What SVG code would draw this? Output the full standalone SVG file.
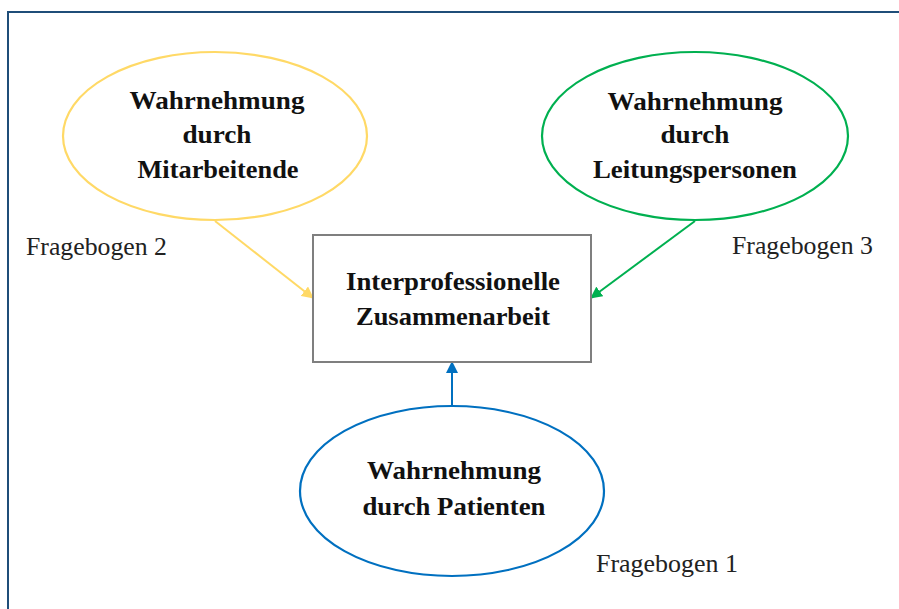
<svg xmlns="http://www.w3.org/2000/svg" width="899" height="609" viewBox="0 0 899 609">
<style>
.t{font-family:"Liberation Serif","DejaVu Serif",serif;font-weight:bold;font-size:26px;fill:#111;text-anchor:middle}
.q{font-family:"Liberation Serif","DejaVu Serif",serif;font-size:26px;fill:#222}
.e{fill:#fff;stroke-width:2.2}
</style>
<defs>
<marker id="ay" markerWidth="12" markerHeight="12" refX="11" refY="6" orient="auto" markerUnits="userSpaceOnUse" viewBox="0 0 12 12"><path d="M0,0 L12,6 L0,12 z" fill="#FFD966"/></marker>
<marker id="ag" markerWidth="12" markerHeight="12" refX="11" refY="6" orient="auto" markerUnits="userSpaceOnUse" viewBox="0 0 12 12"><path d="M0,0 L12,6 L0,12 z" fill="#00B050"/></marker>
<marker id="ab" markerWidth="12" markerHeight="12" refX="11" refY="6" orient="auto" markerUnits="userSpaceOnUse" viewBox="0 0 12 12"><path d="M0,0 L12,6 L0,12 z" fill="#0070C0"/></marker>
</defs>
<rect x="0" y="0" width="899" height="609" fill="#fff"/>
<rect x="8" y="12" width="900" height="610" fill="none" stroke="#1F4E79" stroke-width="2"/>
<g id="connectors">
<line x1="215" y1="221" x2="313" y2="298" stroke="#FFD966" stroke-width="2" marker-end="url(#ay)"/>
<line x1="695" y1="221" x2="591" y2="298" stroke="#00B050" stroke-width="2" marker-end="url(#ag)"/>
<line x1="452" y1="406" x2="452" y2="362" stroke="#0070C0" stroke-width="2" marker-end="url(#ab)"/>
</g>
<g id="mitarbeitende">
<ellipse class="e" cx="215" cy="136" rx="152" ry="84" stroke="#FFD966"/>
<text class="t" x="217" y="109" textLength="175" lengthAdjust="spacingAndGlyphs">Wahrnehmung</text>
<text class="t" x="217" y="143" textLength="69" lengthAdjust="spacingAndGlyphs">durch</text>
<text class="t" x="218" y="178" textLength="161" lengthAdjust="spacingAndGlyphs">Mitarbeitende</text>
</g>
<g id="leitung">
<ellipse class="e" cx="695" cy="136" rx="153" ry="84" stroke="#00B050"/>
<text class="t" x="695" y="110" textLength="175" lengthAdjust="spacingAndGlyphs">Wahrnehmung</text>
<text class="t" x="695" y="143" textLength="69" lengthAdjust="spacingAndGlyphs">durch</text>
<text class="t" x="695" y="178" textLength="204" lengthAdjust="spacingAndGlyphs">Leitungspersonen</text>
</g>
<g id="ipz">
<rect x="313" y="235" width="278" height="127" fill="#fff" stroke="#7F7F7F" stroke-width="2"/>
<text class="t" x="453" y="290" textLength="214" lengthAdjust="spacingAndGlyphs">Interprofessionelle</text>
<text class="t" x="453" y="325" textLength="194" lengthAdjust="spacingAndGlyphs">Zusammenarbeit</text>
</g>
<g id="patienten">
<ellipse class="e" cx="452" cy="491" rx="152" ry="85" stroke="#0070C0"/>
<text class="t" x="454" y="479" textLength="174" lengthAdjust="spacingAndGlyphs">Wahrnehmung</text>
<text class="t" x="454" y="515" textLength="183" lengthAdjust="spacingAndGlyphs">durch Patienten</text>
</g>
<text class="q" x="26" y="255" textLength="141" lengthAdjust="spacingAndGlyphs">Fragebogen 2</text>
<text class="q" x="732" y="254" textLength="141" lengthAdjust="spacingAndGlyphs">Fragebogen 3</text>
<text class="q" x="596" y="572" textLength="142" lengthAdjust="spacingAndGlyphs">Fragebogen 1</text>
</svg>
